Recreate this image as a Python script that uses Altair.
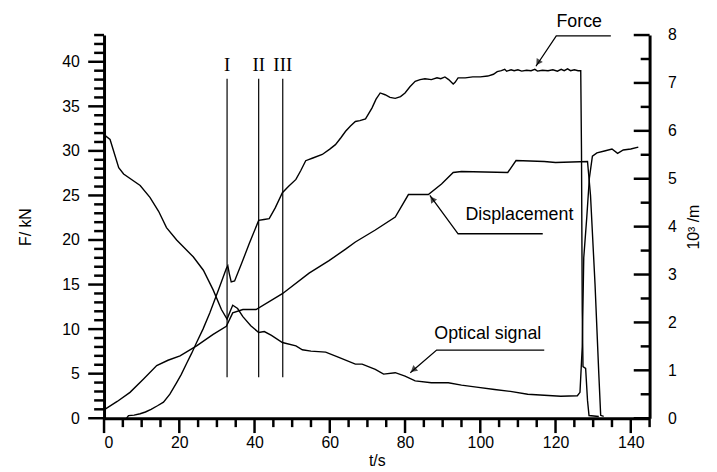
import altair as alt
import pandas as pd

# ---------------- data ----------------
# Force (left axis, kN)
force_t = [6.0, 6.5, 8.0, 9.6, 11.0, 12.5, 14.2, 15.8, 17.5, 19.3, 20.5, 22.0, 23.3, 24.6, 26.3,
           28.1, 30.5, 32.5, 32.9, 33.3, 33.8, 34.7, 36.5, 38.6, 41.1, 42.5, 43.9, 45.5, 47.4,
           49.0, 51.0, 52.3, 53.6, 55.5, 58.0, 60.0, 61.5, 63.0, 64.2, 65.5, 66.8, 68.0, 69.5,
           71.2, 72.3, 73.4, 74.7, 76.0, 77.4, 78.8, 80.0, 81.3, 82.7, 84.0, 85.3, 87.0, 88.5,
           89.5, 90.6, 91.6, 92.8, 93.3, 94.1, 96.0, 98.0, 100.0, 102.0, 103.5, 104.5, 105.6,
           106.5, 107.0, 108.2, 109.0, 110.0, 111.0, 112.3, 113.5, 114.5, 115.2, 116.5, 118.0,
           119.3, 120.5, 121.5, 122.3, 123.2, 124.0, 125.0, 126.0, 126.7, 126.9, 127.1, 127.3,
           128.0, 128.5, 128.9, 131.5]
force_kN = [0.0, 0.3, 0.35, 0.5, 0.7, 1.0, 1.4, 1.8, 2.7, 4.0, 4.9, 6.2, 7.3, 8.5, 10.0,
            11.8, 14.5, 16.8, 17.1, 16.2, 15.3, 15.4, 17.3, 19.6, 22.2, 22.3, 22.4, 23.6, 25.3,
            26.0, 26.8, 27.8, 28.9, 29.2, 29.6, 30.2, 30.7, 31.5, 32.2, 32.8, 33.3, 33.4, 33.6,
            34.8, 35.8, 36.5, 36.3, 36.0, 35.9, 36.1, 36.5, 37.2, 37.8, 38.0, 38.1, 38.0, 38.2,
            38.1, 38.3, 38.0, 37.5, 37.7, 38.2, 38.2, 38.3, 38.3, 38.4, 38.6, 38.9, 39.0,
            39.15, 38.95, 39.1, 39.0, 39.1, 38.95, 39.05, 39.0, 39.15, 38.95, 39.05, 39.0,
            39.1, 38.95, 39.15, 39.0, 39.2, 39.0, 39.1, 39.0, 39.0, 30.0, 12.0, 5.8,
            5.6, 2.0, 0.3, 0.2]

# Displacement (right axis)
disp_t = [0.3, 3.5, 6.9, 10.5, 14.0, 17.0, 20.2, 24.6, 29.0, 32.5, 34.2, 36.9, 40.4, 47.4,
          54.5, 59.8, 64.2, 66.8, 72.1, 77.4, 80.9, 86.2, 89.7, 92.8, 95.0, 107.3, 109.5,
          117.0, 120.0, 128.5, 129.3, 130.5, 131.5, 132.0, 132.8]
disp_v = [0.19, 0.35, 0.54, 0.82, 1.10, 1.21, 1.30, 1.51, 1.75, 1.92, 2.20, 2.27, 2.27, 2.60,
          3.03, 3.29, 3.53, 3.68, 3.93, 4.20, 4.67, 4.67, 4.89, 5.13, 5.15, 5.13, 5.38,
          5.36, 5.34, 5.36, 4.65, 2.79, 0.93, 0.06, 0.04]

# Optical signal (right axis)
opt_t = [0.0, 0.3, 1.6, 3.9, 5.2, 9.6, 12.2, 14.5, 16.6, 19.3, 23.7, 26.4, 29.0, 31.2, 32.7,
         33.5, 34.2, 35.5, 36.9, 39.0, 41.1, 42.6, 44.5, 47.4, 51.0, 52.7, 55.0, 58.9, 62.4,
         66.8, 68.6, 72.1, 74.3, 77.4, 80.0, 82.7, 87.0, 91.5, 95.0, 99.0, 103.8, 108.0,
         112.6, 117.0, 121.4, 125.8, 126.5, 127.1, 127.5, 128.3, 129.0, 129.8, 131.0, 133.0,
         135.0, 136.5, 138.0, 140.0, 142.0]
opt_v = [5.86, 5.90, 5.82, 5.23, 5.10, 4.86, 4.61, 4.32, 3.98, 3.72, 3.37, 3.09, 2.68, 2.27, 2.07,
         2.23, 2.36, 2.29, 2.12, 1.93, 1.79, 1.81, 1.73, 1.58, 1.51, 1.43, 1.40, 1.38, 1.27,
         1.13, 1.13, 1.02, 0.92, 0.95, 0.88, 0.78, 0.74, 0.74, 0.69, 0.65, 0.60, 0.56,
         0.50, 0.48, 0.46, 0.47, 0.54, 1.49, 3.35, 4.19, 5.02, 5.47, 5.54, 5.58,
         5.62, 5.53, 5.60, 5.62, 5.66]

# stage markers I, II, III (left-axis units)
stage_t = [32.7, 41.1, 47.5]
stage_name = ["I", "II", "III"]
stage_lo = [4.6, 4.6, 4.6]
stage_hi = [38.1, 38.1, 38.1]
stage_lab_y = [39.6, 39.6, 39.6]

# annotation leaders (left-axis units)
lead_name = ["Force"] * 3 + ["Displacement"] * 3 + ["Optical signal"] * 3
lead_order = [0, 1, 2] * 3
lead_t = [134.7, 120.2, 114.8, 116.6, 94.1, 86.6, 117.0, 88.4, 81.4]
lead_F = [42.9, 42.9, 39.5, 20.7, 20.7, 25.0, 7.65, 7.65, 5.1]
head_t = [115.5, 87.4, 82.4]
head_F = [40.0, 24.5, 5.5]
head_angle = [213, 324, 230]
note_text = ["Force", "Displacement", "Optical signal"]
note_t = [126.3, 110.4, 102.0]
note_F = [44.5, 22.8, 9.4]

# axis tick values
x_labels = list(range(0, 141, 20))
x_major = list(range(0, 141, 20))
x_minor = [v for v in range(0, 146, 5) if v % 20 != 0]
yl_labels = list(range(0, 41, 5))
yl_major = list(range(0, 41, 5))
yl_minor = [v for v in range(0, 44) if v % 5 != 0]
yr_labels = list(range(0, 9))
yr_major = list(range(0, 9))
yr_minor = [0.5 + i for i in range(8)]

# ---------------- chart ----------------
FONT = "Liberation Sans"
xscale = alt.Scale(domain=[0, 145], nice=False, zero=False)
ylscale = alt.Scale(domain=[0, 43], nice=False)
yrscale = alt.Scale(domain=[0, 8], nice=False)

common = dict(ticks=False, grid=False, domainWidth=3, domainColor="black",
              labelFont=FONT, labelFontSize=16, labelColor="black",
              titleFont=FONT, titleFontSize=16, titleColor="black", titleFontWeight="normal")
x_axis = alt.Axis(values=x_labels, labelPadding=17, title="t/s", titlePadding=2, **common)
yl_axis = alt.Axis(orient="left", values=yl_labels, labelPadding=25, title="F/ kN",
                   titlePadding=28, **common)
yr_axis = alt.Axis(orient="right", values=yr_labels, labelPadding=18, title="10³ /m",
                   titleAngle=270, titleBaseline="top", titlePadding=10, **common)


def X(f):
    return alt.X(f, type="quantitative", scale=xscale, axis=x_axis)


def YL(f):
    return alt.Y(f, type="quantitative", scale=ylscale, axis=yl_axis)


def YR(f):
    return alt.Y(f, type="quantitative", scale=yrscale, axis=yr_axis)


force_df = pd.DataFrame({"t": force_t, "v": force_kN})
disp_df = pd.DataFrame({"t": disp_t, "v": disp_v})
opt_df = pd.DataFrame({"t": opt_t, "v": opt_v})
stage_df = pd.DataFrame({"t": stage_t, "name": stage_name, "lo": stage_lo, "hi": stage_hi,
                         "ly": stage_lab_y})
lead_df = pd.DataFrame({"name": lead_name, "i": lead_order, "t": lead_t, "F": lead_F})
head_df = pd.DataFrame({"t": head_t, "F": head_F, "a": head_angle})
note_df = pd.DataFrame({"label": note_text, "t": note_t, "F": note_F})

LW = 1.4
TW = 2.5
force_line = alt.Chart(force_df).mark_line(color="black", strokeWidth=LW).encode(
    x=X("t"), y=YL("v"))
stage_rules = alt.Chart(stage_df).mark_rule(color="black", strokeWidth=1.2).encode(
    x=X("t"), y=YL("lo"), y2=alt.Y2("hi"))
stage_text = alt.Chart(stage_df).mark_text(font="Liberation Serif", fontSize=19, color="black",
                                           baseline="middle", align="center").encode(
    x=X("t"), y=YL("ly"), text=alt.Text("name", type="nominal"))
leaders = alt.Chart(lead_df).mark_line(color="black", strokeWidth=1.3).encode(
    x=X("t"), y=YL("F"), detail=alt.Detail("name", type="nominal"),
    order=alt.Order("i", type="quantitative"))
heads = alt.Chart(head_df).mark_point(shape="triangle", filled=True, color="black",
                                      size=55).encode(
    x=X("t"), y=YL("F"), angle=alt.Angle("a", type="quantitative", scale=None))
notes = alt.Chart(note_df).mark_text(font=FONT, fontSize=18, color="black", baseline="middle",
                                     align="center").encode(
    x=X("t"), y=YL("F"), text=alt.Text("label", type="nominal"))


# tick marks drawn as short rules anchored at an axis value, length given as pixel offset
def ticks_left(vals, size):
    df = pd.DataFrame({"v": vals, "x0": [0] * len(vals)})
    return alt.Chart(df).mark_rule(color="black", strokeWidth=TW, xOffset=-size).encode(
        x=X("x0"), x2="x0", y=YL("v"))


def ticks_bottom(vals, size):
    df = pd.DataFrame({"v": vals, "y0": [0] * len(vals)})
    return alt.Chart(df).mark_rule(color="black", strokeWidth=TW, y2Offset=size).encode(
        x=X("v"), y=YL("y0"), y2="y0")


def ticks_right(vals, size):
    df = pd.DataFrame({"v": vals, "x0": [145] * len(vals)})
    return alt.Chart(df).mark_rule(color="black", strokeWidth=TW, xOffset=-size).encode(
        x=X("x0"), x2="x0", y=YR("v"))


left = alt.layer(force_line, ticks_left(yl_major, 16), ticks_left(yl_minor, 10),
                 ticks_bottom(x_major, 15), ticks_bottom(x_minor, 9),
                 stage_rules, stage_text, leaders, heads, notes)

disp_line = alt.Chart(disp_df).mark_line(color="black", strokeWidth=LW).encode(
    x=X("t"), y=YR("v"))
opt_line = alt.Chart(opt_df).mark_line(color="black", strokeWidth=LW).encode(
    x=X("t"), y=YR("v"))

right = alt.layer(disp_line, ticks_right(yr_major, 16), ticks_right(yr_minor, 9), opt_line)

chart = alt.layer(left, right).resolve_scale(y="independent").properties(
    width=551, height=387,
    autosize=alt.AutoSizeParams(type="none"),
    padding={"left": 97, "top": 25, "right": 60, "bottom": 52},
    view=alt.ViewBackground(strokeOpacity=0),
)

chart.save("out.html", embed_options={"renderer": "svg", "actions": False})
